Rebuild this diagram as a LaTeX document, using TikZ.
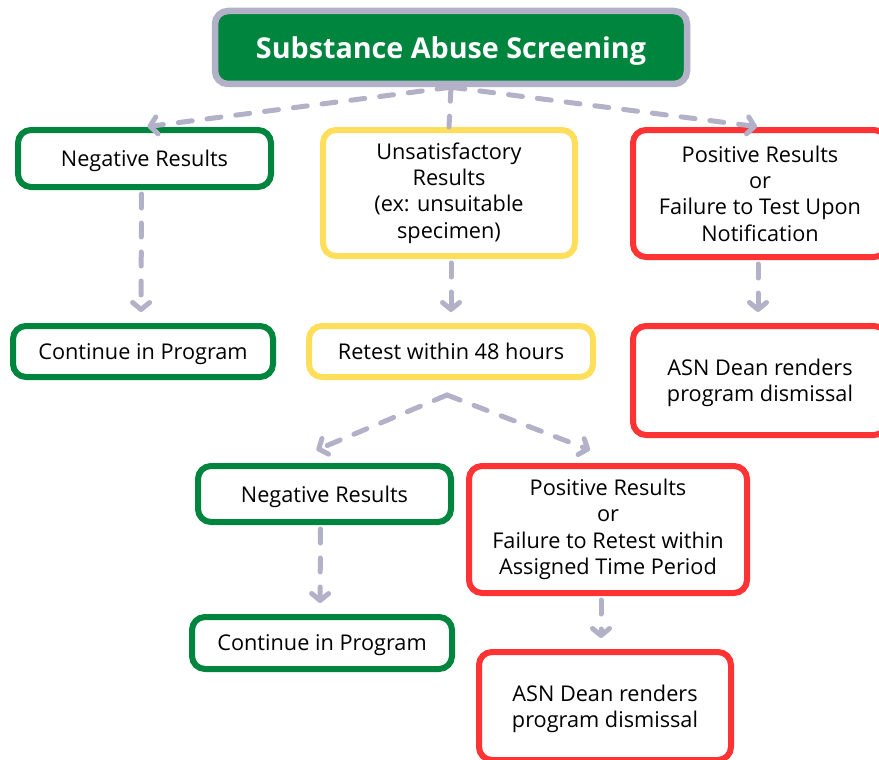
\documentclass[tikz,border=0pt]{standalone}
\usepackage{fontspec}
\setmainfont{Open Sans}
\usetikzlibrary{arrows.meta}
\definecolor{boxgreen}{RGB}{0,133,62}
\definecolor{boxyellow}{RGB}{255,222,92}
\definecolor{boxred}{RGB}{255,51,51}
\definecolor{linkgray}{RGB}{178,177,200}

\begin{document}
\begin{tikzpicture}[x=1pt,y=-1pt,
    box/.style={draw, line width=6pt, rounded corners=13pt, fill=white, align=center,
        inner sep=0pt, font=\fontsize{21.7}{26.3}\selectfont},
    greenbox/.style={box, draw=boxgreen, text depth=0pt},
    yellowbox/.style={box, draw=boxyellow},
    redbox/.style={box, draw=boxred},
    link/.style={draw=linkgray, line width=5pt, line cap=round, dash pattern=on 14pt off 15pt,
        -{Straight Barb[length=7pt,width=17pt,line cap=round,line join=round]}}]
    \useasboundingbox (0,0) rectangle (879,760);

    \node[box, draw=linkgray, fill=boxgreen, line width=6.5pt, minimum width=472pt, minimum height=73pt,
        text=white, text depth=0pt, font=\fontsize{28.7}{32}\selectfont\bfseries] (title) at (451,47.5) {Substance Abuse Screening};

    \node[greenbox, minimum width=253pt, minimum height=57pt] (neg1) at (144.5,158.5) {Negative Results};
    \node[yellowbox, minimum width=252pt, minimum height=126pt] (unsat) at (449,193) {Unsatisfactory\\Results\\(ex: unsuitable\\specimen)};
    \node[redbox, minimum width=254pt, minimum height=127pt] (pos1) at (760,193.5) {Positive Results\\or\\Failure to Test Upon\\Notification};

    \node[greenbox, minimum width=260pt, minimum height=51pt] (cont1) at (143,351.5) {Continue in Program};
    \node[yellowbox, text depth=0pt, minimum width=284pt, minimum height=51pt] (retest) at (451,351.5) {Retest within 48 hours};
    \node[redbox, text depth=0pt, minimum width=254pt, minimum height=109pt] (dean1) at (760,380.5) {ASN Dean renders\\program dismissal};

    \node[greenbox, minimum width=253pt, minimum height=56pt] (neg2) at (324.5,494) {Negative Results};
    \node[redbox, minimum width=278pt, minimum height=127pt] (pos2) at (608,529.5) {Positive Results\\or\\Failure to Retest within\\Assigned Time Period};

    \node[greenbox, minimum width=260pt, minimum height=52pt] (cont2) at (322,643) {Continue in Program};
    \node[redbox, text depth=0pt, minimum width=252pt, minimum height=108pt] (dean2) at (605,706) {ASN Dean renders\\program dismissal};

    \coordinate (fork) at (447,395);

    \draw[link, shorten >=3pt] (title.south) -- (neg1.north);
    \draw[link, -] (title.south) -- (unsat.north);
    \draw[link, shorten >=3pt] (title.south) -- (pos1.north);

    \draw[link, shorten <=4pt, shorten >=11pt] ([xshift=-3pt]neg1.south) -- ([xshift=-2pt]cont1.north);
    \draw[link, shorten <=4pt, shorten >=11pt] ([xshift=2pt]unsat.south) -- (retest.north);
    \draw[link, shorten <=4pt, shorten >=11pt] ([xshift=-2pt]pos1.south) -- ([xshift=-2pt]dean1.north);

    \draw[link] (fork) -- ([xshift=-8pt,yshift=13pt]neg2.north);
    \draw[link] (fork) -- ([xshift=-18pt,yshift=13pt]pos2.north);

    \draw[link, shorten <=4pt, shorten >=11pt] ([xshift=-4pt]neg2.south) -- ([xshift=-2pt]cont2.north);
    \draw[link, shorten <=4pt, shorten >=11pt] ([xshift=-7pt]pos2.south) -- ([xshift=-4pt]dean2.north);
\end{tikzpicture}
\end{document}
